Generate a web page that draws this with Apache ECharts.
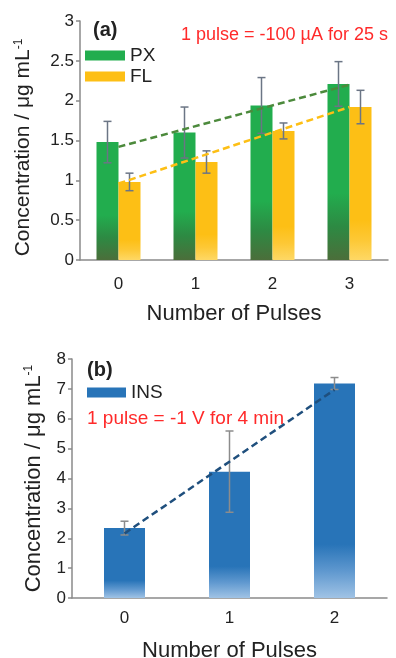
<!DOCTYPE html>
<html>
<head>
<meta charset="utf-8">
<script src="https://cdn.jsdelivr.net/npm/echarts@6/dist/echarts.min.js"></script>
<style>
  html, body { margin: 0; padding: 0; background: #fff; }
  #chart { width: 396px; height: 658px; }
</style>
</head>
<body>
<div id="chart"></div>
<script>
// panel (a)
const pulsesA = ['0', '1', '2', '3'];
const pxValues = [1.48, 1.60, 1.94, 2.21];
const pxErr = [0.26, 0.32, 0.35, 0.28];
const flValues = [0.98, 1.23, 1.62, 1.92];
const flErr = [0.11, 0.14, 0.10, 0.21];
const pxTrend = [[0, 1.42], [3, 2.20]];
const flTrend = [[0, 0.96], [3, 1.92]];

// panel (b)
const pulsesB = ['0', '1', '2'];
const insValues = [2.34, 4.23, 7.18];
const insErr = [0.23, 1.36, 0.20];
const insTrend = [[0, 2.16], [2, 6.97]];

const font = 'Liberation Sans, Arial, sans-serif';
const axisGray = '#8a8a8a';

const grad = (top, mid, bottom, start) => new echarts.graphic.LinearGradient(0, 0, 0, 1, [
  { offset: 0, color: top },
  { offset: start, color: top },
  { offset: (start + 1) / 2, color: mid },
  { offset: 1, color: bottom }
]);

const errorBars = (values, err, offset, color, capW, gridIdx) => ({
  type: 'custom',
  xAxisIndex: gridIdx,
  yAxisIndex: gridIdx,
  z: 5,
  data: values.map((v, i) => [i, v, err[i]]),
  renderItem: function (params, api) {
    const i = api.value(0), v = api.value(1), e = api.value(2);
    const hi = api.coord([i, v + e]);
    const lo = api.coord([i, v - e]);
    const x = hi[0] + offset;
    const st = { stroke: color, lineWidth: 1.5 };
    return {
      type: 'group',
      children: [
        { type: 'line', shape: { x1: x, y1: hi[1], x2: x, y2: lo[1] }, style: st },
        { type: 'line', shape: { x1: x - capW, y1: hi[1], x2: x + capW, y2: hi[1] }, style: st },
        { type: 'line', shape: { x1: x - capW, y1: lo[1], x2: x + capW, y2: lo[1] }, style: st }
      ]
    };
  }
});

const trend = (data, color, gridIdx) => ({
  type: 'line',
  xAxisIndex: gridIdx,
  yAxisIndex: gridIdx,
  data: data,
  symbol: 'none',
  silent: true,
  z: 6,
  lineStyle: { color: color, width: 2.5, type: [7, 4] }
});

const xAx = (data, gridIdx, margin, gap) => ({
  type: 'category',
  gridIndex: gridIdx,
  data: data,
  name: 'Number of Pulses',
  nameLocation: 'middle',
  nameGap: gap,
  nameTextStyle: { fontFamily: font, fontSize: 22, color: '#222' },
  axisLine: { lineStyle: { color: axisGray, width: 1.5 } },
  axisTick: { length: 5, lineStyle: { color: axisGray, width: 1.5 } },
  axisLabel: { fontFamily: font, fontSize: 17, color: '#222', margin: margin }
});

const yAx = (max, interval, gridIdx, gap, size, pad) => ({
  type: 'value',
  gridIndex: gridIdx,
  min: 0,
  max: max,
  interval: interval,
  name: 'Concentration / μg mL{sup|-1}',
  nameLocation: 'middle',
  nameGap: gap,
  nameTextStyle: {
    fontFamily: font, fontSize: size, color: '#222', padding: pad,
    rich: { sup: { fontFamily: font, fontSize: 12, color: '#222', verticalAlign: 'top', lineHeight: size } }
  },
  splitLine: { show: false },
  axisLine: { show: true, lineStyle: { color: axisGray, width: 1.5 } },
  axisTick: { show: true, length: 4, lineStyle: { color: axisGray, width: 1.5 } },
  axisLabel: { fontFamily: font, fontSize: 17, color: '#222', margin: 6 }
});

const chart = echarts.init(document.getElementById('chart'));
chart.setOption({
  animation: false,
  grid: [
    { left: 80, top: 21, width: 308, height: 239, outerBoundsMode: 'none' },
    { left: 72, top: 359, width: 315, height: 239, outerBoundsMode: 'none' }
  ],
  xAxis: [xAx(pulsesA, 0, 16, 43), xAx(pulsesB, 1, 12, 42)],
  yAxis: [yAx(3, 0.5, 0, 46, 21, [0, 14, 0, 0]), yAx(8, 1, 1, 27, 22, 0)],
  legend: [
    {
      left: 85, top: 46, orient: 'vertical', icon: 'rect', padding: 0,
      itemWidth: 40, itemHeight: 10, itemGap: 2,
      textStyle: { fontFamily: font, fontSize: 19, color: '#222' },
      data: [
        { name: 'PX', itemStyle: { color: '#22ad4e' } },
        { name: 'FL', itemStyle: { color: '#fdbf15' } }
      ]
    },
    {
      left: 87, top: 383, orient: 'vertical', icon: 'rect', padding: 0,
      itemWidth: 39, itemHeight: 10,
      textStyle: { fontFamily: font, fontSize: 19, color: '#222' },
      data: [{ name: 'INS', itemStyle: { color: '#2874b8' } }]
    }
  ],
  graphic: [
    { type: 'text', left: 93, top: 20, style: { text: '(a)', fontFamily: font, fontSize: 20, fontWeight: 'bold', fill: '#222' } },
    { type: 'text', left: 181, top: 26, style: { text: '1 pulse = -100 µA for 25 s', fontFamily: font, fontSize: 18, fill: '#ff2a2a' } },
    { type: 'text', left: 87, top: 360, style: { text: '(b)', fontFamily: font, fontSize: 20, fontWeight: 'bold', fill: '#222' } },
    { type: 'text', left: 87, top: 409, style: { text: '1 pulse = -1 V for 4 min', fontFamily: font, fontSize: 19, fill: '#ff2a2a' } }
  ],
  series: [
    {
      name: 'PX', type: 'bar', xAxisIndex: 0, yAxisIndex: 0,
      data: pxValues, barWidth: 22, barGap: '0%',
      itemStyle: { color: grad('#22ad4e', '#2d8a43', '#4b6e3a', 0.62) }
    },
    {
      name: 'FL', type: 'bar', xAxisIndex: 0, yAxisIndex: 0,
      data: flValues, barWidth: 22, barGap: '0%',
      itemStyle: { color: grad('#fdbf15', '#fdc835', '#fed865', 0.74) }
    },
    errorBars(pxValues, pxErr, -11, '#6b7585', 4, 0),
    errorBars(flValues, flErr, 11, '#6b7585', 4, 0),
    trend(pxTrend, '#4c8a3c', 0),
    trend(flTrend, '#fdbf15', 0),
    {
      name: 'INS', type: 'bar', xAxisIndex: 1, yAxisIndex: 1,
      data: insValues, barWidth: 41,
      itemStyle: { color: grad('#2874b8', '#5f98cf', '#a0c3e5', 0.75) }
    },
    errorBars(insValues, insErr, 0, '#8c8c8c', 4, 1),
    trend(insTrend, '#1f4f7d', 1)
  ]
});
</script>
</body>
</html>
